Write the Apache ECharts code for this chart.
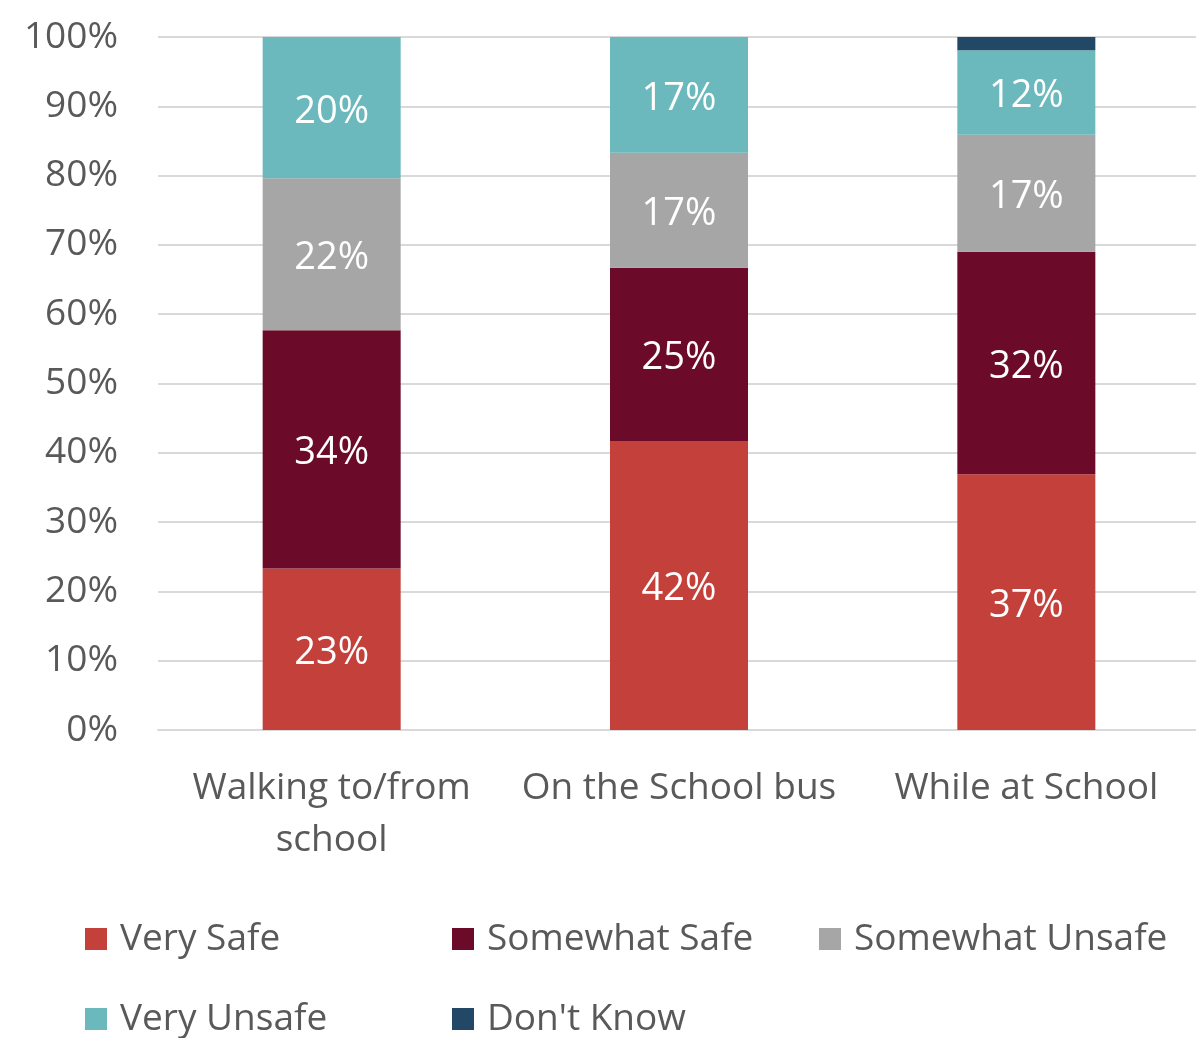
<!DOCTYPE html>
<html>
<head>
<meta charset="utf-8">
<script src="https://cdn.jsdelivr.net/npm/echarts@6/dist/echarts.min.js"></script>
<style>
html, body { margin: 0; padding: 0; background: #fff; }
#chart { width: 1196px; height: 1038px; }
</style>
</head>
<body>
<div id="chart"></div>
<script>
// categories and stacked shares (%)
var categories = ["Walking to/from\nschool", "On the School bus", "While at School"];
var verySafe = [23.3, 41.7, 36.9];
var somewhatSafe = [34.4, 25.0, 32.1];
var somewhatUnsafe = [21.9, 16.6, 16.9];
var veryUnsafe = [20.4, 16.7, 12.2];
var dontKnow = [0, 0, 1.9];
var yTicks = [0, 10, 20, 30, 40, 50, 60, 70, 80, 90, 100];

var font = "'Open Sans', sans-serif";

function seg(name, data, color, showLabel) {
    return {
        name: name,
        type: "bar",
        stack: "total",
        data: data,
        barWidth: 138,
        itemStyle: { color: color },
        label: {
            show: showLabel,
            position: "inside",
            offset: [0, 4],
            color: "#fff",
            fontSize: 38,
            fontFamily: font,
            formatter: function (p) { return Math.round(p.value) + "%"; }
        }
    };
}

var chart = echarts.init(document.getElementById("chart"));
chart.setOption({
    animation: false,
    grid: { left: 158, right: -4, top: 37, bottom: 308, outerBoundsMode: "none" },
    xAxis: {
        type: "category",
        data: categories,
        axisLine: { lineStyle: { color: "#d9d9d9", width: 2 } },
        axisTick: { show: false },
        axisLabel: { color: "#595959", fontSize: 37, fontFamily: font, margin: 32, lineHeight: 52, interval: 0 }
    },
    yAxis: {
        type: "value",
        min: yTicks[0],
        max: yTicks[yTicks.length - 1],
        interval: 10,
        axisLine: { show: false },
        axisTick: { show: false },
        splitLine: { lineStyle: { color: "#d9d9d9", width: 2 } },
        axisLabel: { color: "#595959", fontSize: 37, fontFamily: font, margin: 40, formatter: "{value}%" }
    },
    legend: {
        left: 80,
        top: 912,
        right: 0,
        itemWidth: 22,
        itemHeight: 22,
        itemGap: 36,
        icon: "rect",
        textStyle: { color: "#595959", fontSize: 37, fontFamily: font, width: 296, lineHeight: 44, padding: [0, 0, 0, 8] },
        data: ["Very Safe", "Somewhat Safe", "Somewhat Unsafe", "Very Unsafe", "Don't Know"]
    },
    series: [
        seg("Very Safe", verySafe, "#c4413b", true),
        seg("Somewhat Safe", somewhatSafe, "#6b0a29", true),
        seg("Somewhat Unsafe", somewhatUnsafe, "#a6a6a6", true),
        seg("Very Unsafe", veryUnsafe, "#6bb9bd", true),
        seg("Don't Know", dontKnow, "#234766", false)
    ]
});
</script>
</body>
</html>
